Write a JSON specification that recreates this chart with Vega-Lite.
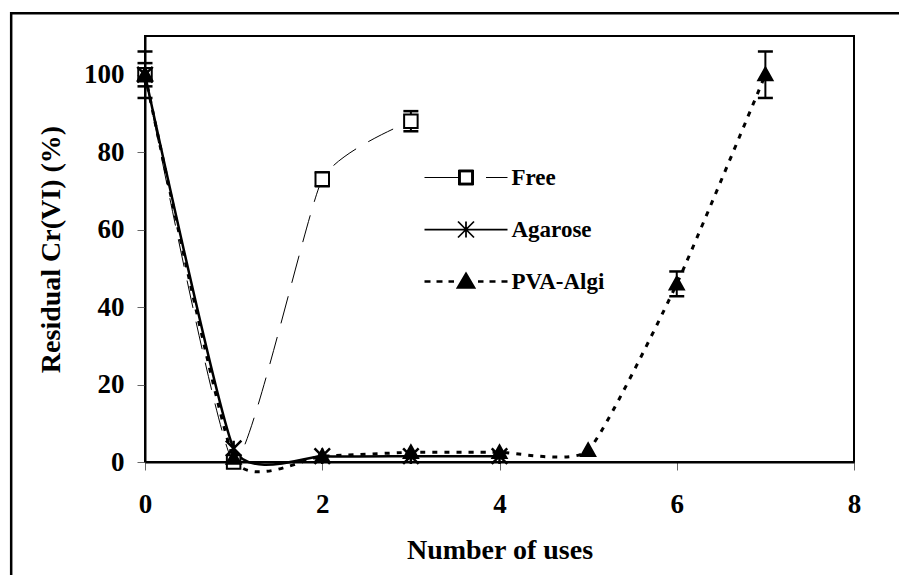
{
  "$schema": "https://vega.github.io/schema/vega-lite/v6.json",
  "width": 709,
  "height": 426,
  "autosize": "none",
  "padding": {"left": 145, "top": 36, "right": 45, "bottom": 113},
  "background": "white",
  "config": {
    "view": {"stroke": "black", "strokeWidth": 2},
    "font": "Liberation Serif",
    "axis": {
      "labelFont": "Liberation Serif",
      "labelFontWeight": "bold",
      "labelFontSize": 27,
      "labelColor": "black",
      "labelFlush": false,
      "titleFont": "Liberation Serif",
      "titleFontWeight": "bold",
      "titleFontSize": 28,
      "titleColor": "black",
      "domainColor": "black",
      "domainWidth": 2,
      "tickColor": "#666666",
      "tickWidth": 1,
      "tickSize": 8,
      "grid": false
    },
    "legend": {
      "title": null,
      "orient": "none",
      "legendX": 299.5,
      "legendY": 121,
      "padding": 0,
      "symbolSize": 1600,
      "symbolOpacity": 1,
      "labelFont": "Liberation Serif",
      "labelFontSize": 23,
      "labelFontWeight": "bold",
      "labelColor": "black",
      "labelOffset": 24,
      "rowPadding": 18.5
    }
  },
  "datasets": {
    "runs": [
      {"series": "Free", "uses": 0, "residual": 100, "lo": 97, "hi": 103},
      {"series": "Free", "uses": 1, "residual": 0},
      {"series": "Free", "uses": 2, "residual": 73, "lo": 71.2, "hi": 74.8},
      {"series": "Free", "uses": 3, "residual": 88, "lo": 85.4, "hi": 90.6},
      {"series": "Agarose", "uses": 0, "residual": 100},
      {"series": "Agarose", "uses": 1, "residual": 3.5},
      {"series": "Agarose", "uses": 2, "residual": 1.5},
      {"series": "Agarose", "uses": 3, "residual": 1.5},
      {"series": "Agarose", "uses": 4, "residual": 1.5},
      {"series": "PVA-Algi", "uses": 0, "residual": 100, "lo": 94, "hi": 106},
      {"series": "PVA-Algi", "uses": 1, "residual": 1},
      {"series": "PVA-Algi", "uses": 2, "residual": 1.5},
      {"series": "PVA-Algi", "uses": 3, "residual": 2.5},
      {"series": "PVA-Algi", "uses": 4, "residual": 2.5},
      {"series": "PVA-Algi", "uses": 5, "residual": 3},
      {"series": "PVA-Algi", "uses": 6, "residual": 46, "lo": 42.8, "hi": 49.2},
      {"series": "PVA-Algi", "uses": 7, "residual": 100, "lo": 94, "hi": 106}
    ]
  },
  "data": {"name": "runs"},
  "layer": [
    {
      "data": {"values": [{"frame": "chart area"}]},
      "mark": {"type": "rect", "fillOpacity": 0, "stroke": "black", "strokeWidth": 2.5, "clip": false},
      "encoding": {
        "x": {"datum": -1.51},
        "x2": {"datum": 10},
        "y": {"datum": 115.9},
        "y2": {"datum": -40}
      }
    },
    {
      "transform": [{"filter": "datum.series === 'Free'"}],
      "mark": {"type": "line", "interpolate": "cardinal", "tension": 0.5, "stroke": "black", "strokeWidth": 1, "strokeDash": [28, 14], "clip": false},
      "encoding": {
        "x": {"field": "uses", "type": "quantitative", "scale": {"domain": [0, 8]},
              "axis": {"values": [0, 2, 4, 6, 8], "format": "d", "title": "Number of uses", "labelPadding": 21, "titlePadding": 19}},
        "y": {"field": "residual", "type": "quantitative", "scale": {"domain": [0, 110]},
              "axis": {"values": [0, 20, 40, 60, 80, 100], "format": "d", "title": "Residual Cr(VI) (%)", "labelPadding": 13, "titlePadding": 18}}
      }
    },
    {
      "transform": [{"filter": "datum.series === 'Agarose'"}],
      "mark": {"type": "line", "interpolate": "cardinal", "tension": 0.5, "stroke": "black", "strokeWidth": 2.5, "clip": false},
      "encoding": {
        "x": {"field": "uses", "type": "quantitative"},
        "y": {"field": "residual", "type": "quantitative"}
      }
    },
    {
      "transform": [{"filter": "datum.series === 'PVA-Algi'"}],
      "mark": {"type": "line", "interpolate": "cardinal", "tension": 0.5, "stroke": "black", "strokeWidth": 3, "strokeDash": [5, 7], "clip": false},
      "encoding": {
        "x": {"field": "uses", "type": "quantitative"},
        "y": {"field": "residual", "type": "quantitative"}
      }
    },
    {
      "transform": [{"filter": "isValid(datum.lo)"}],
      "mark": {"type": "rule", "stroke": "black", "strokeWidth": 2, "opacity": 1},
      "encoding": {
        "x": {"field": "uses", "type": "quantitative"},
        "y": {"field": "lo", "type": "quantitative"},
        "y2": {"field": "hi"}
      }
    },
    {
      "transform": [{"filter": "isValid(datum.lo)"}],
      "mark": {"type": "tick", "orient": "horizontal", "color": "black", "opacity": 1, "size": 15, "thickness": 2.5},
      "encoding": {
        "x": {"field": "uses", "type": "quantitative"},
        "y": {"field": "lo", "type": "quantitative"}
      }
    },
    {
      "transform": [{"filter": "isValid(datum.hi)"}],
      "mark": {"type": "tick", "orient": "horizontal", "color": "black", "opacity": 1, "size": 15, "thickness": 2.5},
      "encoding": {
        "x": {"field": "uses", "type": "quantitative"},
        "y": {"field": "hi", "type": "quantitative"}
      }
    },
    {
      "transform": [{"filter": "datum.series === 'Free'"}],
      "mark": {"type": "point", "shape": "M-0.9,-0.9H0.9V0.9H-0.9Z", "filled": true, "fill": "white", "stroke": "black", "strokeWidth": 2, "opacity": 1, "size": 225, "clip": false},
      "encoding": {
        "x": {"field": "uses", "type": "quantitative"},
        "y": {"field": "residual", "type": "quantitative"}
      }
    },
    {
      "transform": [{"filter": "datum.series === 'Agarose'"}],
      "mark": {"type": "point", "shape": "M-1,-1L1,1M-1,1L1,-1M0,-1V1", "filled": false, "stroke": "black", "strokeWidth": 2.5, "opacity": 1, "size": 240, "clip": false},
      "encoding": {
        "x": {"field": "uses", "type": "quantitative"},
        "y": {"field": "residual", "type": "quantitative"}
      }
    },
    {
      "transform": [{"filter": "datum.series === 'PVA-Algi'"}],
      "mark": {"type": "point", "shape": "M0,-0.95L0.95,0.75H-0.95Z", "filled": true, "fill": "black", "stroke": "black", "strokeWidth": 2, "opacity": 1, "size": 225, "clip": false},
      "encoding": {
        "x": {"field": "uses", "type": "quantitative"},
        "y": {"field": "residual", "type": "quantitative"}
      }
    },
    {
      "transform": [{"filter": "false"}],
      "mark": {"type": "point", "filled": false, "fill": "black", "stroke": "black", "size": 1600},
      "encoding": {
        "x": {"field": "uses", "type": "quantitative"},
        "y": {"field": "residual", "type": "quantitative"},
        "shape": {"field": "series", "type": "nominal",
                  "scale": {"domain": ["Free", "Agarose", "PVA-Algi"],
                            "range": [
                              "M-2.075,0H-0.375M-0.375,-0.375H0.375V0.375H-0.375ZM-0.28,-0.28V0.28H0.28V-0.28ZM1,0H2.075",
                              "M-2.075,0H2.075M-0.4,-0.4L0.4,0.4M-0.4,0.4L0.4,-0.4M0,-0.4V0.4",
                              "M-2.075,0H-1.775M-1.475,0H-1.175M-0.875,0H-0.6M0.6,0H0.875M1.175,0H1.475M1.775,0H2.075M0,-0.38L0.4,0.3H-0.4Z"
                            ]},
                  "legend": {"title": null}},
        "strokeWidth": {"field": "series", "type": "nominal",
                        "scale": {"domain": ["Free", "Agarose", "PVA-Algi"], "range": [1, 2.5, 2.5]},
                        "legend": {"title": null}}
      }
    }
  ]
}
